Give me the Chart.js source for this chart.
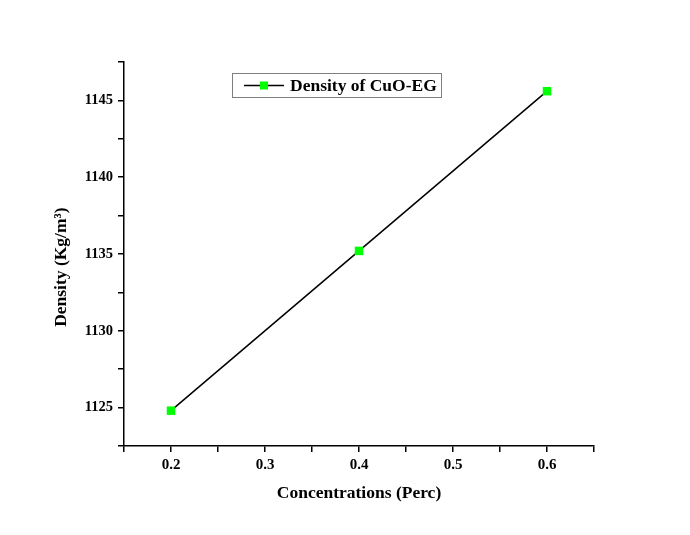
<!DOCTYPE html>
<html lang="en">
<head>
<meta charset="UTF-8">
<title>Density of CuO-EG</title>
<script src="https://cdn.jsdelivr.net/npm/chart.js"></script>
<style>
  html, body { margin: 0; padding: 0; background: #ffffff; }
  #wrap { width: 690px; height: 535px; }
</style>
</head>
<body>
<div id="wrap"><canvas id="chart" width="690" height="535"></canvas></div>
<script>
// --- data ---
const concentrations = [0.2, 0.4, 0.6];          // Perc
const densities = [1124.8, 1135.2, 1145.6];      // Kg/m3
const seriesLabel = 'Density of CuO-EG';
const xTitle = 'Concentrations (Perc)';
// trailing em spaces push the rotated title a bit lower, as in the original
const yTitle = 'Density (Kg/m\u00B3)\u2003\u2002';

const FONT = "'Liberation Serif', 'Times New Roman', serif";

// legend drawn as a framed box inside the plot, like the original
const boxLegend = {
  id: 'boxLegend',
  afterDraw(chart) {
    const ctx = chart.ctx;
    const ds = chart.data.datasets[0];
    const x = 232, y = 73, w = 209, h = 24;
    ctx.save();
    ctx.strokeStyle = '#7f7f7f';
    ctx.lineWidth = 1;
    ctx.strokeRect(x + 0.5, y + 0.5, w, h);
    const cy = y + h / 2 + 0.5;
    ctx.strokeStyle = ds.borderColor;
    ctx.lineWidth = ds.borderWidth;
    ctx.beginPath();
    ctx.moveTo(x + 12, cy);
    ctx.lineTo(x + 52, cy);
    ctx.stroke();
    ctx.fillStyle = ds.pointBackgroundColor;
    ctx.fillRect(x + 32 - 4, cy - 4, 8, 8);
    ctx.fillStyle = '#000';
    ctx.font = "bold 17.5px " + FONT;
    ctx.textBaseline = 'middle';
    ctx.fillText(ds.label, x + 58, cy + 1);
    ctx.restore();
  }
};

const isMajor = (v, step) => Math.abs(v / step - Math.round(v / step)) < 1e-6;

new Chart(document.getElementById('chart'), {
  type: 'scatter',
  data: {
    datasets: [{
      label: seriesLabel,
      data: concentrations.map((c, i) => ({ x: c, y: densities[i] })),
      showLine: true,
      borderColor: '#000000',
      borderWidth: 1.5,
      pointStyle: 'rect',
      pointRadius: 6,
      pointHoverRadius: 6,
      pointBackgroundColor: '#00ff00',
      pointBorderColor: '#00ff00',
      pointBorderWidth: 0
    }]
  },
  options: {
    responsive: false,
    animation: false,
    layout: { padding: { top: 62, right: 96, bottom: 0, left: 0 } },
    plugins: {
      legend: { display: false },
      tooltip: { enabled: false }
    },
    scales: {
      x: {
        type: 'linear',
        min: 0.15,
        max: 0.65,
        afterFit: s => { s.height = 89; },
        border: { color: '#000', width: 1.5 },
        grid: { drawOnChartArea: false, drawTicks: true, tickLength: 6, color: '#000', lineWidth: 1.5 },
        ticks: {
          stepSize: 0.05,
          color: '#000',
          padding: 4,
          maxRotation: 0,
          autoSkip: false,
          font: { family: FONT, size: 15, weight: 'bold' },
          callback: v => isMajor(v, 0.1) ? v.toFixed(1) : ''
        },
        title: {
          display: true,
          text: xTitle,
          color: '#000',
          font: { family: FONT, size: 17.5, weight: 'bold' },
          padding: { top: 0, bottom: 31 }
        }
      },
      y: {
        type: 'linear',
        min: 1122.5,
        max: 1147.5,
        afterFit: s => { s.width = 124; },
        border: { color: '#000', width: 1.5 },
        grid: { drawOnChartArea: false, drawTicks: true, tickLength: 6, color: '#000', lineWidth: 1.5 },
        ticks: {
          stepSize: 2.5,
          color: '#000',
          padding: 5,
          autoSkip: false,
          font: { family: FONT, size: 14.5, weight: 'bold' },
          callback: v => isMajor(v, 5) ? String(Math.round(v)) : ''
        },
        title: {
          display: true,
          text: yTitle,
          color: '#000',
          font: { family: FONT, size: 17.5, weight: 'bold' },
          padding: { top: 51, bottom: 0 }
        }
      }
    }
  },
  plugins: [boxLegend]
});
</script>
</body>
</html>
